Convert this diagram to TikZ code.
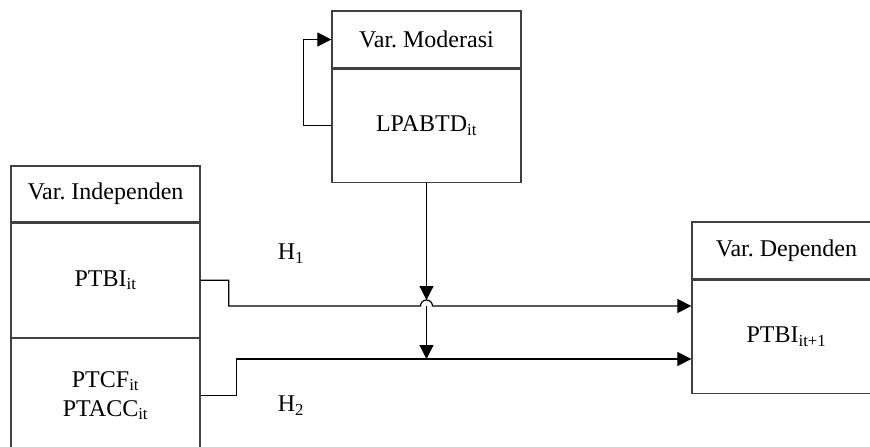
\documentclass[tikz,border=0pt]{standalone}
\usepackage{fontspec}
\setmainfont{Liberation Serif}
\frenchspacing
\usetikzlibrary{positioning,arrows.meta}
\begin{document}
\begin{tikzpicture}[x=1pt,y=-1pt,>={Triangle[length=14pt,width=14pt]},
    box/.style={draw=darkgray,line width=1.3pt,minimum width=189pt,inner sep=0pt,
      font=\fontsize{24}{29}\selectfont,align=center},
    link/.style={->,line width=1.2pt}]
  \useasboundingbox (0,0) rectangle (870,447);
  \clip (0,0) rectangle (870,447);
  % var. moderasi
  \node[box,minimum height=57pt] (modH) at (426.5,39.5) {Var. Moderasi};
  \node[box,minimum height=113pt,below=0pt of modH] (modB) {LPABTD\textsubscript{it}};
  % var. independen
  \node[box,minimum height=56pt] (indH) at (105.5,194) {Var. Independen};
  \node[box,minimum height=114pt,below=0pt of indH] (indB1) {PTBI\textsubscript{it}};
  \node[box,minimum height=114pt,below=0pt of indB1] (indB2) {PTCF\textsubscript{it}\\PTACC\textsubscript{it}};
  % var. dependen
  \node[box,minimum height=57pt] (depH) at (786.5,250.5) {Var. Dependen};
  \node[box,minimum height=113pt,below=0pt of depH] (depB) {PTBI\textsubscript{it+1}};
  % hipotesis
  \node[font=\fontsize{24}{29}\selectfont] (h1) at (291,254) {H\textsubscript{1}};
  \node[font=\fontsize{24}{29}\selectfont] (h2) at (291,406) {H\textsubscript{2}};
  \coordinate (j1) at (426.5,306);
  \coordinate (j2) at (426.5,359);
  % connectors
  \draw[link] (modB.west) -- ++(-28,0) |- (modH.west);
  \draw[link] (indB1.east) -- ++(28,0) |- ([xshift=-6pt]j1)
    arc[start angle=180,end angle=0,radius=6pt] -- (depB.west |- j1);
  \draw[link] (indB2.east) -- ++(36,0) |- (depB.west |- j2);
  \draw[link] (modB.south) -- ([yshift=6pt]j1);
  \draw[link] (j1) -- (j2);
\end{tikzpicture}
\end{document}
